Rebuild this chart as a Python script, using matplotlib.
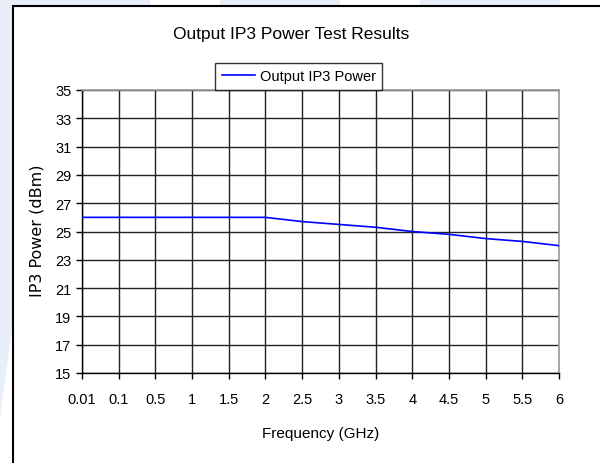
import matplotlib
matplotlib.use('Agg')
import matplotlib.pyplot as plt
from matplotlib.patches import Rectangle, Polygon

# data
freq_labels = ['0.01', '0.1', '0.5', '1', '1.5', '2', '2.5', '3', '3.5', '4', '4.5', '5', '5.5', '6']
ip3_power = [26.0, 26.0, 26.0, 26.0, 26.0, 26.0, 25.7, 25.5, 25.3, 25.0, 24.8, 24.5, 24.3, 24.0]
y_ticks = list(range(15, 36, 2))

plt.rcParams['font.family'] = ['Liberation Sans', 'DejaVu Sans']

W, H = 600, 464
fig = plt.figure(figsize=(W / 100, H / 100), dpi=100)

# faint watermark bands outside the chart frame
wm = '#e9eff8'
fig.patches.append(Polygon([(0, 1), (12 / W, 1), (12 / W, 1 - 330 / H), (0, 1 - 420 / H)],
                           closed=True, transform=fig.transFigure, facecolor=wm, edgecolor='none'))
for x0, x1 in [(0, 150), (220, 340), (420, 560)]:
    fig.patches.append(Rectangle((x0 / W, 1 - 7 / H), (x1 - x0) / W, 7 / H,
                                 transform=fig.transFigure, facecolor=wm, edgecolor='none'))

ax = fig.add_axes([82 / W, 1 - 374 / H, (559 - 82) / W, (374 - 91) / H])

x = list(range(len(freq_labels)))
ax.plot(x, ip3_power, color='#0000ff', linewidth=1.2, label='Output IP3 Power', zorder=3)

ax.set_xlim(0, len(freq_labels) - 1)
ax.set_ylim(15, 35)
ax.set_xticks(x)
ax.set_xticklabels(freq_labels)
ax.set_yticks(y_ticks)
ax.tick_params(axis='both', labelsize=10.5, direction='out', length=4, width=1, color='black')
ax.tick_params(axis='x', pad=10)
ax.grid(True, color='#222222', linewidth=1.0)
ax.set_axisbelow(True)

for side in ['left', 'bottom']:
    ax.spines[side].set_color('black')
    ax.spines[side].set_linewidth(1.0)
for side in ['top', 'right']:
    ax.spines[side].set_color('#999999')
    ax.spines[side].set_linewidth(1.2)

fig.text(291 / W, 1 - 35 / H, 'Output IP3 Power Test Results', ha='center', va='center', fontsize=12.5)
fig.text(321 / W, 1 - 434 / H, 'Frequency (GHz)', ha='center', va='center', fontsize=11)
fig.text(37 / W, 1 - 231 / H, 'IP3 Power (dBm)', ha='center', va='center', rotation=90,
         fontsize=11.5, family='DejaVu Sans')

leg = ax.legend(loc='lower center', bbox_to_anchor=(0.454, 1.0), fontsize=10.5, frameon=True,
                fancybox=False, edgecolor='black', borderaxespad=0, handlelength=2.3,
                handletextpad=0.3, borderpad=0.45)
leg.get_frame().set_linewidth(1.0)

# outer chart border
fig.patches.append(Rectangle((12.5 / W, -0.1), 1.2, 1 - 7 / H + 0.1, transform=fig.transFigure,
                             fill=False, edgecolor='black', linewidth=1.5))

fig.savefig('out.png', dpi=100, facecolor='white')
